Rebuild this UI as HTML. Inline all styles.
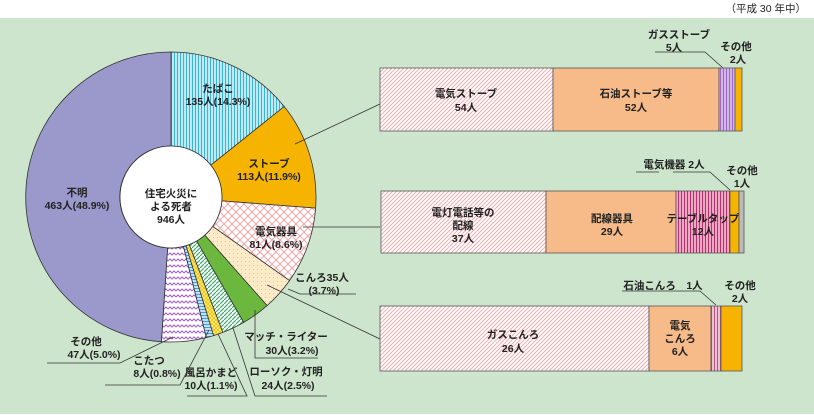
<!DOCTYPE html>
<html><head><meta charset="utf-8"><style>
html,body{margin:0;padding:0;background:#fff;}
svg{display:block;font-family:"Liberation Sans","Noto Sans CJK JP",sans-serif;}
text{font-size:10.5px;fill:#222;}
</style></head><body>
<svg width="814" height="415" viewBox="0 0 814 415" xmlns="http://www.w3.org/2000/svg">
<defs>
<pattern id="tab" width="3" height="4" patternUnits="userSpaceOnUse"><rect width="3" height="4" fill="#bfeaf3"/><rect width="1" height="4" fill="#39b5d6"/></pattern>
<pattern id="dia" width="8" height="8" patternUnits="userSpaceOnUse"><rect width="8" height="8" fill="#fff"/><path d="M0 0L8 8M8 0L0 8" stroke="#f1a5a8" stroke-width="1"/></pattern>
<pattern id="kon" width="4" height="4" patternUnits="userSpaceOnUse"><rect width="4" height="4" fill="#fdebc8"/><rect x="1" y="1" width="1" height="1" fill="#e8c48a"/></pattern>
<pattern id="rou" width="4" height="4" patternUnits="userSpaceOnUse"><rect width="4" height="4" fill="#fff"/><path d="M0 4L4 0" stroke="#3fae6b" stroke-width="1.2"/></pattern>
<pattern id="fur" width="4" height="4" patternUnits="userSpaceOnUse"><rect width="4" height="4" fill="#fff4b0"/><path d="M0 0L4 4M4 0L0 4" stroke="#f2c400" stroke-width="1"/></pattern>
<pattern id="kot" width="4" height="3" patternUnits="userSpaceOnUse"><rect width="4" height="3" fill="#bfe0f5"/><rect width="4" height="1" fill="#4a9ad6"/></pattern>
<pattern id="zig" width="8" height="6" patternUnits="userSpaceOnUse"><rect width="8" height="6" fill="#fff"/><path d="M0 3L2 1L4 3L6 1L8 3" stroke="#a45bd0" stroke-width="1" fill="none"/></pattern>
<pattern id="ph" width="4" height="4" patternUnits="userSpaceOnUse"><rect width="4" height="4" fill="#fff"/><path d="M0 4L4 0M-1 1L1 -1M3 5L5 3" stroke="#f1b0b3" stroke-width="1"/></pattern>
<pattern id="gas" width="3" height="4" patternUnits="userSpaceOnUse"><rect width="3" height="4" fill="#d5b4e8"/><rect width="1" height="4" fill="#9b6bc2"/></pattern>
<pattern id="tap" width="3" height="4" patternUnits="userSpaceOnUse"><rect width="3" height="4" fill="#eda8c4"/><rect width="1" height="4" fill="#b5306e"/></pattern>
<pattern id="sek" width="3" height="4" patternUnits="userSpaceOnUse"><rect width="3" height="4" fill="#f0c0d4"/><rect width="1" height="4" fill="#b0597f"/></pattern>
</defs>
<rect x="0" y="18" width="814" height="396" fill="#cde5cc"/>
<text x="806" y="12" text-anchor="end">（平成 30 年中）</text>
<g stroke="#333" stroke-width="0.8">
<path d="M171 52A145 145 0 0 1 284.2 106.5L210.8 165.2A51 51 0 0 0 171 146Z" fill="url(#tab)"/>
<path d="M284.2 106.5A145 145 0 0 1 315.6 208.1L221.8 200.9A51 51 0 0 0 210.8 165.2Z" fill="#f6b400"/>
<path d="M315.6 208.1A145 145 0 0 1 289.5 280.6L212.7 226.4A51 51 0 0 0 221.8 200.9Z" fill="url(#dia)"/>
<path d="M289.5 280.6A145 145 0 0 1 267.1 305.6L204.8 235.2A51 51 0 0 0 212.7 226.4Z" fill="url(#kon)"/>
<path d="M267.1 305.6A145 145 0 0 1 243.7 322.4L196.6 241.1A51 51 0 0 0 204.8 235.2Z" fill="#6cb83f"/>
<path d="M243.7 322.4A145 145 0 0 1 222.8 332.4L189.2 244.6A51 51 0 0 0 196.6 241.1Z" fill="url(#rou)"/>
<path d="M222.8 332.4A145 145 0 0 1 213.6 335.6L186 245.8A51 51 0 0 0 189.2 244.6Z" fill="url(#fur)"/>
<path d="M213.6 335.6A145 145 0 0 1 206.3 337.6L183.4 246.5A51 51 0 0 0 186 245.8Z" fill="url(#kot)"/>
<path d="M206.3 337.6A145 145 0 0 1 161.4 341.7L167.6 247.9A51 51 0 0 0 183.4 246.5Z" fill="url(#zig)"/>
<path d="M161.4 341.7A145 145 0 0 1 171 52L171 146A51 51 0 0 0 167.6 247.9Z" fill="#9b98cc"/>
<circle cx="171" cy="197" r="51" fill="#fff"/>
</g>
<g text-anchor="middle" font-weight="bold">
<text x="171" y="197">住宅火災に</text><text x="171" y="210">よる死者</text><text x="171" y="223">946人</text>
<text x="218" y="92">たばこ</text><text x="218" y="105">135人(14.3%)</text>
<text x="269" y="167">ストーブ</text><text x="269" y="180">113人(11.9%)</text>
<text x="276" y="235">電気器具</text><text x="276" y="248">81人(8.6%)</text>
<text x="77" y="196">不明</text><text x="77" y="209">463人(48.9%)</text>
<text x="322" y="281">こんろ35人</text><text x="324" y="294">(3.7%)</text>
<text x="286" y="340">マッチ・ライター</text><text x="292" y="354">30人(3.2%)</text>
<text x="286" y="375">ローソク・灯明</text><text x="288" y="389">24人(2.5%)</text>
<text x="211" y="376">風呂かまど</text><text x="211" y="389">10人(1.1%)</text>
<text x="149" y="364">こたつ</text><text x="157" y="377">8人(0.8%)</text>
<text x="86" y="345">その他</text><text x="94" y="358">47人(5.0%)</text>
</g>
<g stroke="#333" stroke-width="0.8" fill="none">
<path d="M295 144L380 104"/>
<path d="M303 227H380"/>
<path d="M267 285L380 339"/>
<path d="M288 289L300 294H356"/>
<path d="M255 310V358H318"/>
<path d="M233 328L255 396H327"/>
<path d="M218 334L247 396H187"/>
<path d="M209 330L180 385H105"/>
<path d="M173 337L120 363H47"/>
<path d="M655 52H705L723 68"/>
<path d="M636 172H659"/><path d="M673 172H710L730 190"/>
<path d="M622 291H700L716 305"/>
</g>
<g stroke="#555" stroke-width="0.8">
<rect x="380" y="68" width="173" height="63" fill="url(#ph)"/>
<rect x="553" y="68" width="166" height="63" fill="#f6bb88"/>
<rect x="719" y="68" width="16" height="63" fill="url(#gas)"/>
<rect x="735" y="68" width="7" height="63" fill="#f6b400"/>
<rect x="381" y="191" width="165" height="62" fill="url(#ph)"/>
<rect x="546" y="191" width="130" height="62" fill="#f6bb88"/>
<rect x="676" y="191" width="54" height="62" fill="url(#tap)"/>
<rect x="730" y="191" width="9" height="62" fill="#f6b400"/>
<rect x="739" y="191" width="5" height="62" fill="#bbb"/>
<rect x="380" y="306" width="269" height="65" fill="url(#ph)"/>
<rect x="649" y="306" width="62" height="65" fill="#f6bb88"/>
<rect x="711" y="306" width="10" height="65" fill="url(#sek)"/>
<rect x="721" y="306" width="21" height="65" fill="#f6b400"/>
</g>
<g text-anchor="middle" font-weight="bold">
<text x="466" y="97">電気ストーブ</text><text x="466" y="111">54人</text>
<text x="636" y="97">石油ストーブ等</text><text x="636" y="111">52人</text>
<text x="679" y="38">ガスストーブ</text><text x="674" y="51">5人</text>
<text x="736" y="50">その他</text><text x="738" y="63">2人</text>
<text x="463" y="216">電灯電話等の</text><text x="463" y="229">配線</text><text x="463" y="242">37人</text>
<text x="612" y="222">配線器具</text><text x="612" y="235">29人</text>
<text x="703" y="222">テーブルタップ</text><text x="703" y="235">12人</text>
<text x="674" y="168">電気機器 2人</text>
<text x="742" y="174">その他</text><text x="742" y="187">1人</text>
<text x="513" y="338">ガスこんろ</text><text x="513" y="352">26人</text>
<text x="680" y="329">電気</text><text x="680" y="342">こんろ</text><text x="680" y="355">6人</text>
<text x="663" y="289">石油こんろ　1人</text>
<text x="740" y="289">その他</text><text x="740" y="302">2人</text>
</g>
</svg>
</body></html>
